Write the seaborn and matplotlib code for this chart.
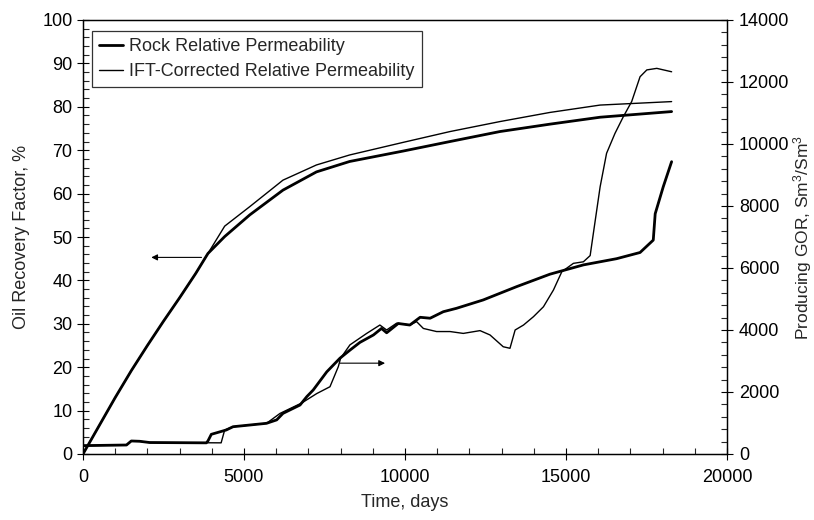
import matplotlib
matplotlib.use("Agg")
import matplotlib.pyplot as plt
from matplotlib.lines import Line2D
from matplotlib.ticker import MultipleLocator
import seaborn as sns

# Oil recovery factor (%) versus time (days)
rock_rf_days = [0, 500, 1000, 1500, 2000, 2500, 3000, 3500, 3880, 4400, 5180,
                6210, 7250, 8280, 9940, 11400, 12950, 14500, 16060, 18280]
rock_rf = [0, 6.5, 13.0, 19.2, 25.0, 30.6, 36.0, 41.6, 46.2, 50.1, 55.1,
           60.8, 65.0, 67.4, 69.8, 72.0, 74.3, 76.0, 77.6, 78.9]

ift_rf_days = [0, 500, 1000, 1500, 2000, 2500, 3000, 3500, 3880, 4400, 5180,
               6210, 7250, 8280, 9940, 11400, 12950, 14500, 16060, 18280]
ift_rf = [0, 6.5, 13.0, 19.2, 25.0, 30.6, 36.0, 41.6, 46.2, 52.5, 57.0,
          63.1, 66.6, 68.9, 71.8, 74.3, 76.6, 78.7, 80.4, 81.2]

# Producing gas-oil ratio (Sm3/Sm3) versus time (days)
rock_gor_days = [0, 1350, 1500, 1760, 2070, 3830, 3880, 3985, 4450, 4660, 5180,
                 5700, 5900, 6015, 6210, 6740, 6950, 7150, 7570, 7980, 8290,
                 8600, 9020, 9270, 9430, 9790, 10150, 10470, 10780, 11190,
                 11600, 12430, 13470, 14500, 15540, 16570, 17300, 17710,
                 17770, 18020, 18280]
rock_gor = [270, 290, 420, 410, 370, 360, 420, 635, 775, 880, 935,
            990, 1060, 1100, 1310, 1580, 1850, 2065, 2650, 3090, 3350,
            3600, 3840, 4050, 3910, 4210, 4160, 4410, 4380, 4590,
            4700, 4970, 5400, 5800, 6100, 6300, 6500, 6900,
            7750, 8620, 9430]

ift_gor_days = [0, 1350, 1500, 1760, 2070, 4290, 4400, 4660, 5180, 5700, 6120,
                6500, 6800, 7260, 7670, 7930, 8000, 8290, 8810, 9220, 9430,
                9740, 10150, 10360, 10570, 10980, 11400, 11810, 12330, 12640,
                13050, 13260, 13420, 13680, 13990, 14300, 14610, 14870, 15230,
                15540, 15750, 15850, 16060, 16260, 16520, 16780, 17040, 17300,
                17510, 17820, 18280]
ift_gor = [270, 290, 420, 410, 370, 360, 775, 880, 935, 990, 1310,
           1500, 1650, 1950, 2170, 2820, 3090, 3520, 3890, 4160, 4000,
           4220, 4160, 4270, 4050, 3950, 3950, 3890, 3980, 3840,
           3460, 3410, 4000, 4160, 4430, 4750, 5290, 5880, 6150,
           6200, 6400, 7120, 8620, 9700, 10340, 10880, 11370, 12170,
           12390, 12440, 12330]

legend_labels = ["Rock Relative Permeability", "IFT-Corrected Relative Permeability"]

sns.set_style("ticks")
plt.rcParams["font.family"] = ["Liberation Sans", "DejaVu Sans"]
plt.rcParams["mathtext.fontset"] = "custom"
plt.rcParams["mathtext.rm"] = "Liberation Sans"
plt.rcParams["mathtext.it"] = "Liberation Sans"

FS = 13
THICK = 2.0
THIN = 1.0

fig = plt.figure(figsize=(8.14, 5.2), dpi=100)
ax = fig.add_axes([83 / 814, 1 - 454 / 520, 644 / 814, 434 / 520])
ax2 = ax.twinx()

sns.lineplot(x=rock_rf_days, y=rock_rf, ax=ax, color="black", lw=THICK, sort=False)
sns.lineplot(x=ift_rf_days, y=ift_rf, ax=ax, color="black", lw=THIN, sort=False)
sns.lineplot(x=rock_gor_days, y=rock_gor, ax=ax2, color="black", lw=THICK, sort=False)
sns.lineplot(x=ift_gor_days, y=ift_gor, ax=ax2, color="black", lw=THIN, sort=False)

ax.set_xlim(0, 20000)
ax.set_ylim(0, 100)
ax2.set_ylim(0, 14000)

ax.xaxis.set_major_locator(MultipleLocator(5000))
ax.xaxis.set_minor_locator(MultipleLocator(1000))
ax.yaxis.set_major_locator(MultipleLocator(10))
ax.yaxis.set_minor_locator(MultipleLocator(2))
ax2.yaxis.set_major_locator(MultipleLocator(2000))
ax2.yaxis.set_minor_locator(MultipleLocator(400))

for a in (ax, ax2):
    a.tick_params(which="major", direction="inout", length=9, width=0.8,
                  labelsize=FS, colors="black")
    a.tick_params(which="minor", direction="in", length=4, width=0.8)
    for s in a.spines.values():
        s.set_visible(True)
        s.set_color("black")
        s.set_linewidth(0.9)
ax.tick_params(axis="x", which="major", pad=6)
ax.tick_params(axis="y", which="major", pad=3)
ax2.tick_params(axis="y", which="major", pad=4)

ax.set_xlabel("Time, days", fontsize=FS, labelpad=6)
ax.set_ylabel("Oil Recovery Factor, %", fontsize=FS, labelpad=9)
ax2.set_ylabel("Producing GOR, Sm$^3$/Sm$^3$", fontsize=12.5, labelpad=1)

# Arrows pointing each family of curves to its axis
rf_arrow = dict(start=(3680, 45.3), end=(2120, 45.3))
gor_arrow = dict(start=(7980, 2930), end=(9380, 2930))
style = dict(arrowstyle="-|>", color="black", lw=0.8, mutation_scale=9,
             shrinkA=0, shrinkB=0)
ax.annotate("", xy=rf_arrow["end"], xytext=rf_arrow["start"], arrowprops=style)
ax2.annotate("", xy=gor_arrow["end"], xytext=gor_arrow["start"], arrowprops=style)

handles = [Line2D([], [], color="black", lw=THICK),
           Line2D([], [], color="black", lw=THIN)]
leg = ax2.legend(handles, legend_labels, loc="upper left",
                 bbox_to_anchor=(0.014, 0.975), borderaxespad=0,
                 fontsize=13, frameon=True, fancybox=False,
                 handlelength=1.3, handletextpad=0.35, labelspacing=0.45,
                 borderpad=0.4)
leg.get_frame().set_edgecolor("black")
leg.get_frame().set_linewidth(0.9)

fig.savefig("out.png", dpi=100)
